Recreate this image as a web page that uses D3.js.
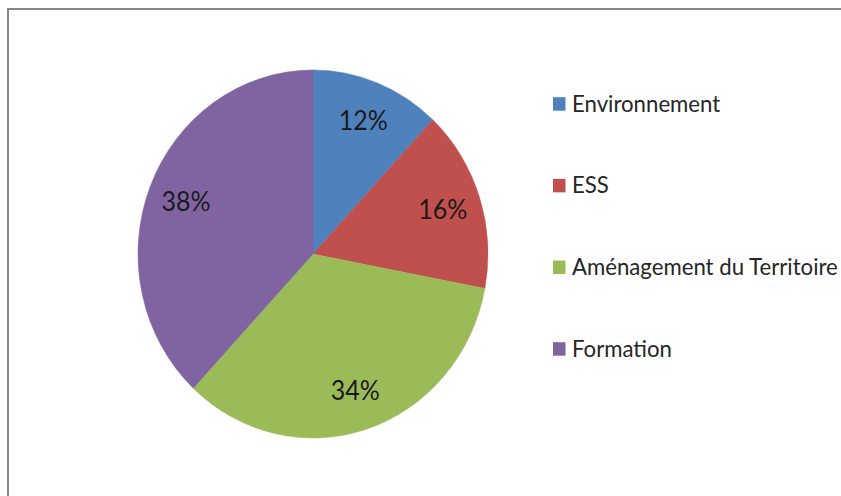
<!DOCTYPE html>
<html>
<head>
<meta charset="utf-8">
<script src="https://cdn.jsdelivr.net/npm/d3@7"></script>
<style>
  html, body { margin: 0; padding: 0; background: #fff; }
  svg { display: block; }
  text { font-family: Lato, "Open Sans", sans-serif; }
</style>
</head>
<body>
<svg id="chart" width="841" height="496"></svg>
<script>
const categories = ["Environnement", "ESS", "Aménagement du Territoire", "Formation"];
const values = [12, 16, 34, 38];
const labels = ["12%", "16%", "34%", "38%"];
const colors = ["#4F81BD", "#C0504D", "#9BBB59", "#8064A2"];

const svg = d3.select("#chart");

// frame
svg.append("rect")
  .attr("x", 8).attr("y", 9)
  .attr("width", 900).attr("height", 600)
  .attr("fill", "#fff")
  .attr("stroke", "#878787")
  .attr("stroke-width", 2);

const cx = 313, cy = 254, rx = 175, ry = 184;

const pie = d3.pie().sort(null).value(d => d.v);
const data = pie(categories.map((c, i) => ({ c, v: values[i], l: labels[i], col: colors[i] })));
const arc = d3.arc().innerRadius(0).outerRadius(rx);
const labelArc = d3.arc().innerRadius(rx * 0.78).outerRadius(rx * 0.78);

const g = svg.append("g")
  .attr("transform", `translate(${cx},${cy}) scale(1,${ry / rx})`);

g.selectAll("path.slice")
  .data(data)
  .join("path")
  .attr("class", "slice")
  .attr("d", arc)
  .attr("fill", d => d.data.col)
  .attr("stroke", d => d.data.col)
  .attr("stroke-width", 0.5);

const lg = svg.append("g").attr("transform", `translate(${cx},${cy})`);
lg.selectAll("text")
  .data(data)
  .join("text")
  .attr("transform", d => {
    const [x, y] = labelArc.centroid(d);
    return `translate(${x},${y * ry / rx}) scale(1,1.05)`;
  })
  .attr("dy", "0.36em")
  .attr("text-anchor", "middle")
  .attr("font-size", 25)
  .attr("fill", "#1a1a1a")
  .text(d => d.data.l);

// legend
const legendY = d3.scalePoint().domain(categories).range([111.7, 356.7]);
const leg = svg.append("g");
const items = leg.selectAll("g")
  .data(categories)
  .join("g")
  .attr("transform", d => `translate(0,${legendY(d)})`);
items.append("rect")
  .attr("x", 553).attr("y", -14.5)
  .attr("width", 12.5).attr("height", 13.5)
  .attr("fill", (d, i) => colors[i]);
items.append("text")
  .attr("x", 572).attr("y", 0)
  .attr("transform", "scale(1,1.05)")
  .attr("font-size", 22.2)
  .attr("fill", "#262626")
  .text(d => d);
</script>
</body>
</html>
